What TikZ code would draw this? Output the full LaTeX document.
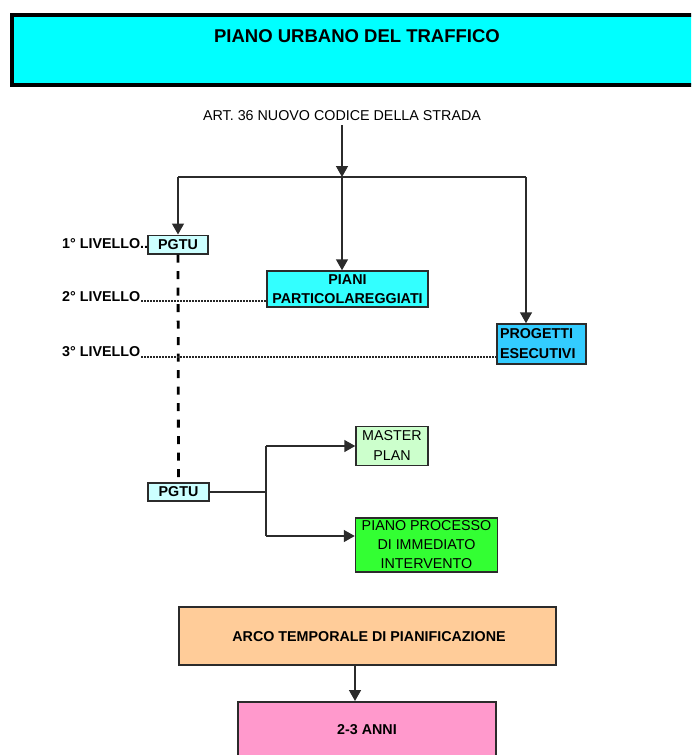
\documentclass[tikz,border=0pt]{standalone}
\usepackage{fontspec}
\setmainfont{Liberation Sans}
\usetikzlibrary{arrows.meta}
\definecolor{titlecyan}{HTML}{00FFFF}
\definecolor{lightcyan}{HTML}{CCFFFF}
\definecolor{pianicyan}{HTML}{33FFFF}
\definecolor{progblue}{HTML}{33CCFF}
\definecolor{lightgreen}{HTML}{CCFFCC}
\definecolor{brightgreen}{HTML}{33FF33}
\definecolor{peach}{HTML}{FFCC99}
\definecolor{pink}{HTML}{FF99CC}
\definecolor{linegray}{HTML}{2B2B2B}
\begin{document}
\begin{tikzpicture}[x=1pt,y=-1pt,
  lbl/.style={inner sep=0pt, font=\fontsize{14.3}{19}\selectfont},
  blbl/.style={lbl, font=\fontsize{14.3}{19}\selectfont\bfseries},
  box/.style={draw=linegray, line width=1.5pt, inner sep=0pt, align=center},
  conn/.style={draw=linegray, line width=1.5pt},
  arr/.style={conn, -{Triangle[width=12pt,length=11pt]}},
  dotline/.style={draw=black!85, line width=1.8pt, dash pattern=on 1.4pt off 1.6pt},
  dashline/.style={draw=black, line width=2.8pt, dash pattern=on 8pt off 8.5pt}]
\useasboundingbox (0,0) rectangle (691,755);
\clip (0,0) rectangle (691,755);
\fill[white] (0,0) rectangle (691,755);

% title
\node[draw=black, line width=4pt, fill=titlecyan, minimum width=700, minimum height=70.5,
      inner sep=0pt, anchor=north west] (titlebox) at (9.5,12.5) {};
\node[inner sep=0pt, font=\fontsize{18.5}{22}\selectfont\bfseries] (title) at (357,36) {PIANO URBANO DEL TRAFFICO};

% article
\node[lbl, inner ysep=4pt] (art) at (342,116) {ART. 36 NUOVO CODICE DELLA STRADA};
\coordinate (jn) at (342,177);
\coordinate (jl) at (178,177);
\coordinate (jr) at (526,177);

% boxes
\node[box, blbl, fill=lightcyan, minimum width=60, minimum height=18.5] (pgtu1) at (178,244.5) {PGTU};
\node[box, blbl, fill=pianicyan, minimum width=161, minimum height=36] (piani) at (347.5,289) {PIANI\\PARTICOLAREGGIATI};
\node[box, blbl, fill=progblue, minimum width=89, minimum height=40, align=left, text width=83] (progetti) at (541.5,344) {PROGETTI\\[1pt]ESECUTIVI};

% level labels
\node[blbl, anchor=west] (lv1) at (62,244) {1° LIVELLO..};
\node[blbl, anchor=west] (lv2) at (62,296.5) {2° LIVELLO};
\node[blbl, anchor=west] (lv3) at (62,352) {3° LIVELLO};

% connectors top
\draw[arr] (art.south) -- (jn);
\draw[conn] (jl) -- (jr);
\draw[arr] (jl) -- (pgtu1.north);
\draw[arr] (jn) -- (jn |- piani.north);
\draw[arr] (jr) -- (jr |- progetti.north);

% second PGTU and dashed link
\node[box, blbl, fill=lightcyan, minimum width=61, minimum height=18] (pgtu2) at (178.5,492) {PGTU};
\draw[dashline] (pgtu1.south) -- (pgtu2.north);

% dotted level lines
\draw[dotline] ([xshift=1pt,yshift=0.8pt]lv2.south east) -- ([yshift=0.8pt]piani.west |- lv2.south east);
\draw[dotline] ([xshift=1pt,yshift=0.5pt]lv3.south east) -- ([yshift=0.5pt]progetti.west |- lv3.south east);

\node[box, lbl, fill=lightgreen, minimum width=72, minimum height=39, align=center] (master) at (392,446) {MASTER\\[1pt]PLAN};
\node[box, lbl, fill=brightgreen, minimum width=142, minimum height=54, align=center] (piano) at (426.5,545) {PIANO PROCESSO\\DI IMMEDIATO\\INTERVENTO};

\coordinate (bx) at (266,492);
\coordinate (bt) at (266,446);
\coordinate (bb) at (266,536);
\draw[conn] (pgtu2.east) -- (bx);
\draw[conn] (bt) -- (bb);
\draw[arr] (bt) -- (bt -| master.west);
\draw[arr] (bb) -- (bb -| piano.west);

% bottom
\node[box, fill=peach, minimum width=377, minimum height=58] (arco) at (367.5,636) {};
\node[blbl] (arcotxt) at (369,637) {ARCO TEMPORALE DI PIANIFICAZIONE};
\node[box, fill=pink, minimum width=258, minimum height=100, anchor=north] (anni) at (367,701) {};
\node[blbl] (annitxt) at (367,730) {2-3 ANNI};
\coordinate (ax) at (355,0);
\draw[arr] (ax |- arco.south) -- (ax |- anni.north);
\end{tikzpicture}
\end{document}
